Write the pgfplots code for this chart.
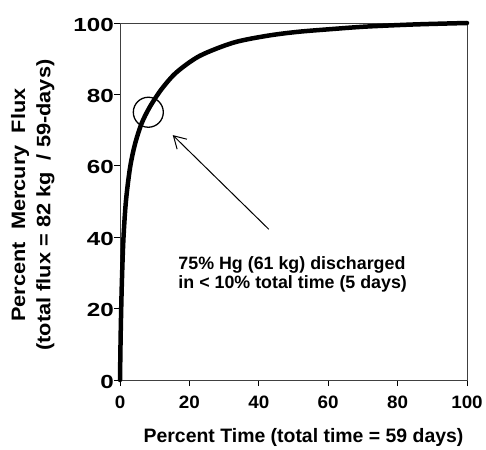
\documentclass[border=0pt]{standalone}
\usepackage{fontspec}
\setmainfont{Liberation Sans}
\usepackage{graphicx}
\usepackage{pgfplots}
\pgfplotsset{compat=1.18}
\usetikzlibrary{arrows.meta}
\begin{document}
\begin{tikzpicture}
\begin{axis}[
  scale only axis, width=347bp, height=357bp,
  xmin=0, xmax=100, ymin=0, ymax=100,
  xtick={0,20,...,100}, ytick={0,20,...,100},
  tick align=outside, tick pos=left, major tick length=6bp,
  every tick/.style={black, line width=0.8bp},
  axis line style={black!75, line width=0.8bp},
  clip=false,
  /pgf/number format/assume math mode=true,
  tick label style={font=\fontsize{18}{18}\selectfont\bfseries, inner sep=0pt},
  xticklabel style={anchor=north, yshift=-10bp, xscale=1.05},
  yticklabel style={font=\fontsize{19}{19}\selectfont\bfseries, anchor=east, xscale=1.28, yshift=-1.5bp},
  xlabel={Percent Time (total time = 59 days)},
  xlabel style={font=\fontsize{19.5}{20}\selectfont\bfseries, inner sep=0pt,
    at={(axis description cs:0.529,-0.1737)}, anchor=base},
  ylabel={\resizebox{233bp}{\height}{Percent\ \ Mercury\ \ Flux}\\\resizebox{291bp}{\height}{(total flux = 82 kg\ \ / 59-days)}},
  ylabel style={font=\fontsize{19.5}{25.5}\selectfont\bfseries, align=center, inner sep=0pt,
    at={(axis description cs:-0.188,0.49)}, anchor=south},
]
\addplot[black, line width=4.5bp, smooth, line join=round, line cap=round] coordinates {
  (0,0) (0.2,13) (0.5,26) (0.96,39) (1.7,50) (2.9,59.5) (4.3,66) (6.2,71.8)
  (8.6,76.5) (12,81.5) (16.3,86.2) (23,90.8) (32.7,94.5) (42.3,96.4)
  (51,97.5) (61,98.3) (71,99) (85,99.6) (100,100)
};
\draw[line width=1.3bp] (axis cs:8.16,75) circle[radius=15bp];
\draw[line width=1bp, -{Straight Barb[length=12bp,width=14bp]}] (axis cs:42.9,42.2) -- (axis cs:15.2,68.6);
\node[anchor=north west, align=left, inner sep=0pt, font=\fontsize{17.9}{19.3}\selectfont\bfseries]
  at (axis cs:16.8,34.7) {75\% Hg (61 kg) discharged\\in < 10\% total time (5 days)};
\end{axis}
\pgfresetboundingbox
\path[use as bounding box] (-120bp,-70bp) rectangle (366bp,380bp);
\end{tikzpicture}
\end{document}
